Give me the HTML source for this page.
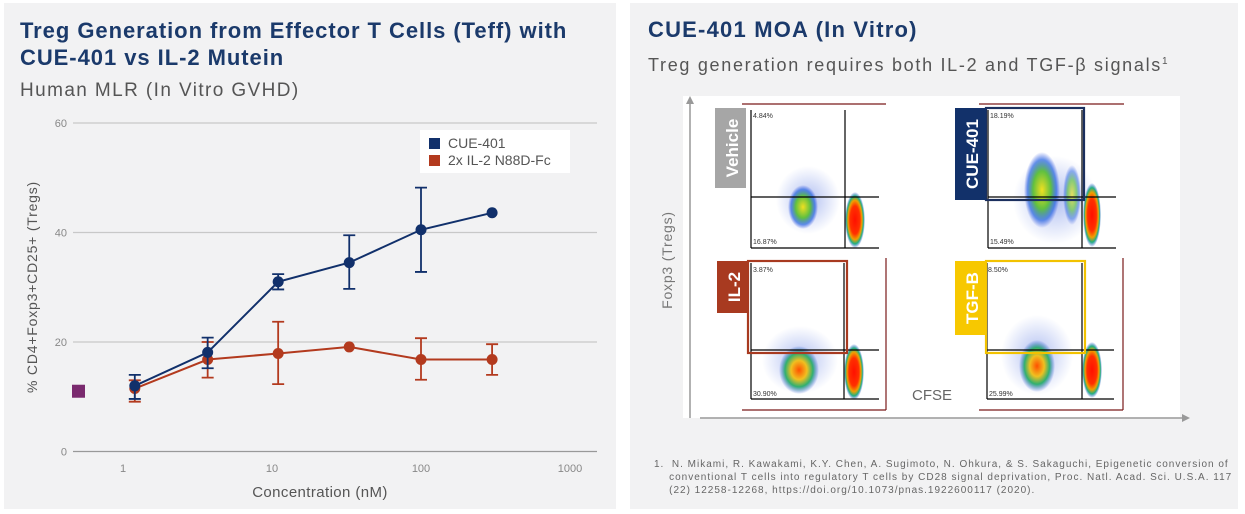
<!DOCTYPE html>
<html><head><meta charset="utf-8"><style>
body{margin:0;width:1245px;height:514px;background:#fff;font-family:"Liberation Sans",sans-serif;position:relative;overflow:hidden}
.panel{position:absolute;background:#f2f2f3}
.t{position:absolute;white-space:nowrap}
</style></head><body>
<div class="panel" style="left:4px;top:3px;width:612px;height:506px"></div>
<div class="panel" style="left:630px;top:3px;width:608px;height:506px"></div>
<div class="t" style="left:20px;top:17px;font-size:22px;font-weight:bold;color:#1b3a6b;line-height:27px;letter-spacing:0.95px">Treg Generation from Effector T Cells (Teff) with<br>CUE-401 vs IL-2 Mutein</div>
<div class="t" style="left:20px;top:80px;font-size:19px;color:#555;letter-spacing:1.4px">Human MLR (In Vitro GVHD)</div>
<div class="t" style="left:648px;top:17px;font-size:22px;font-weight:bold;color:#1b3a6b;letter-spacing:1.2px">CUE-401 MOA (In Vitro)</div>
<div class="t" style="left:648px;top:55px;font-size:18px;color:#555;letter-spacing:1.7px">Treg generation requires both IL-2 and TGF-β signals<sup style="font-size:10px">1</sup></div>
<div class="t" style="left:654px;top:458px;font-size:10px;color:#666;line-height:13px;letter-spacing:1px">1.&nbsp; N. Mikami, R. Kawakami, K.Y. Chen, A. Sugimoto, N. Ohkura, &amp; S. Sakaguchi, Epigenetic conversion of<br>&nbsp;&nbsp;&nbsp; conventional T cells into regulatory T cells by CD28 signal deprivation, Proc. Natl. Acad. Sci. U.S.A. 117<br>&nbsp;&nbsp;&nbsp; (22) 12258-12268, https://doi.org/10.1073/pnas.1922600117 (2020).</div>

<svg id="chart" width="1245" height="514" style="position:absolute;left:0;top:0"></svg>

<svg width="1245" height="514" style="position:absolute;left:0;top:0" font-family="Liberation Sans, sans-serif">
<defs>
<radialGradient id="g1"><stop offset="0" stop-color="#ff1000"/><stop offset="0.5" stop-color="#ff3000"/><stop offset="0.7" stop-color="#f0a000"/><stop offset="0.85" stop-color="#20b080"/><stop offset="1" stop-color="#3050e0" stop-opacity="0"/></radialGradient>
<radialGradient id="g2"><stop offset="0" stop-color="#f0e020"/><stop offset="0.5" stop-color="#60c040"/><stop offset="0.8" stop-color="#2060e0" stop-opacity="0.7"/><stop offset="1" stop-color="#3050e0" stop-opacity="0"/></radialGradient>
<radialGradient id="g3"><stop offset="0" stop-color="#ff5000"/><stop offset="0.4" stop-color="#f0c020"/><stop offset="0.7" stop-color="#30b070"/><stop offset="1" stop-color="#3050e0" stop-opacity="0"/></radialGradient>
<radialGradient id="haze"><stop offset="0" stop-color="#5070e0" stop-opacity="0.45"/><stop offset="1" stop-color="#5070e0" stop-opacity="0"/></radialGradient>
</defs>
<rect x="683" y="96" width="497" height="322" fill="#fff"/>
<line x1="690" y1="418" x2="690" y2="100" stroke="#999" stroke-width="1.5"/><polygon points="686,104 694,104 690,96" fill="#999"/>
<line x1="700" y1="418" x2="1185" y2="418" stroke="#999" stroke-width="1.5"/><polygon points="1182,414 1182,422 1190,418" fill="#999"/>
<text x="672" y="260" transform="rotate(-90 672 260)" text-anchor="middle" font-size="14" fill="#777" letter-spacing="0.8">Foxp3 (Tregs)</text>
<text x="932" y="400" text-anchor="middle" font-size="15" fill="#666">CFSE</text>
<g stroke="#7a1a1a" stroke-width="1.2" fill="none">
<line x1="742" y1="104" x2="886" y2="104"/><line x1="979" y1="104" x2="1124" y2="104"/>
<line x1="886" y1="258" x2="886" y2="410"/><line x1="742" y1="410" x2="886" y2="410"/>
<line x1="1123" y1="258" x2="1123" y2="410"/><line x1="979" y1="410" x2="1123" y2="410"/>
</g>
<g>
<ellipse cx="808" cy="200" rx="32" ry="34" fill="url(#haze)"/>
<ellipse cx="803" cy="207" rx="15" ry="22" fill="url(#g2)"/>
<ellipse cx="855" cy="220" rx="10" ry="28" fill="url(#g1)"/>
<g stroke="#000" stroke-width="1.2"><line x1="751" y1="110" x2="751" y2="248"/><line x1="751" y1="248" x2="879" y2="248"/><line x1="845" y1="110" x2="845" y2="248"/><line x1="751" y1="197" x2="879" y2="197"/></g>
<text x="753" y="118" font-size="7" fill="#333">4.84%</text><text x="753" y="244" font-size="7" fill="#333">16.87%</text>
<rect x="715" y="108" width="31" height="80" fill="#a6a6a6"/>
<text x="738" y="148" transform="rotate(-90 738 148)" text-anchor="middle" font-size="17" font-weight="bold" fill="#fff">Vehicle</text>
</g>
<g>
<ellipse cx="1055" cy="200" rx="42" ry="44" fill="url(#haze)"/>
<ellipse cx="1042" cy="190" rx="18" ry="38" fill="url(#g2)"/>
<ellipse cx="1072" cy="195" rx="9" ry="30" fill="url(#g2)" opacity="0.7"/>
<ellipse cx="1092" cy="215" rx="9" ry="32" fill="url(#g1)"/>
<g stroke="#000" stroke-width="1.2"><line x1="988" y1="110" x2="988" y2="248"/><line x1="988" y1="248" x2="1116" y2="248"/><line x1="1082" y1="110" x2="1082" y2="248"/><line x1="988" y1="197" x2="1116" y2="197"/></g>
<rect x="986" y="108" width="98" height="92" fill="none" stroke="#1b2f5e" stroke-width="2.2"/>
<text x="990" y="118" font-size="7" fill="#333">18.19%</text><text x="990" y="244" font-size="7" fill="#333">15.49%</text>
<rect x="955" y="108" width="31" height="92" fill="#12316a"/>
<text x="978" y="154" transform="rotate(-90 978 154)" text-anchor="middle" font-size="17" font-weight="bold" fill="#fff">CUE-401</text>
</g>
<g>
<ellipse cx="800" cy="360" rx="38" ry="34" fill="url(#haze)"/>
<ellipse cx="799" cy="370" rx="20" ry="24" fill="url(#g3)"/>
<ellipse cx="854" cy="372" rx="10" ry="28" fill="url(#g1)"/>
<g stroke="#000" stroke-width="1.2"><line x1="751" y1="263" x2="751" y2="399"/><line x1="751" y1="399" x2="879" y2="399"/><line x1="844" y1="263" x2="844" y2="399"/><line x1="751" y1="350" x2="879" y2="350"/></g>
<rect x="748" y="261" width="99" height="92" fill="none" stroke="#a83a20" stroke-width="2.2"/>
<text x="753" y="272" font-size="7" fill="#333">3.87%</text><text x="753" y="396" font-size="7" fill="#333">30.90%</text>
<rect x="717" y="261" width="31" height="52" fill="#a83a20"/>
<text x="740" y="287" transform="rotate(-90 740 287)" text-anchor="middle" font-size="17" font-weight="bold" fill="#fff">IL-2</text>
</g>
<g>
<ellipse cx="1037" cy="355" rx="36" ry="40" fill="url(#haze)"/>
<ellipse cx="1037" cy="366" rx="18" ry="26" fill="url(#g3)"/>
<ellipse cx="1092" cy="370" rx="10" ry="28" fill="url(#g1)"/>
<g stroke="#000" stroke-width="1.2"><line x1="987" y1="263" x2="987" y2="399"/><line x1="987" y1="399" x2="1114" y2="399"/><line x1="1082" y1="263" x2="1082" y2="399"/><line x1="987" y1="350" x2="1114" y2="350"/></g>
<rect x="986" y="261" width="99" height="92" fill="none" stroke="#f2c200" stroke-width="2.2"/>
<text x="988" y="272" font-size="7" fill="#333">8.50%</text><text x="989" y="396" font-size="7" fill="#333">25.99%</text>
<rect x="955" y="261" width="31" height="74" fill="#f7c800"/>
<text x="978" y="298" transform="rotate(-90 978 298)" text-anchor="middle" font-size="17" font-weight="bold" fill="#fff">TGF-B</text>
</g>
</svg>

<script>
const concentrations = [1.2, 3.7, 11, 33, 100, 300];
const cueValues = [12.0, 18.1, 31.0, 34.5, 40.5, 43.6];
const cueHigh = [14.0, 20.8, 32.4, 39.5, 48.2, null];
const cueLow = [9.6, 15.2, 29.6, 29.7, 32.8, null];
const il2Values = [11.5, 16.8, 17.9, 19.1, 16.8, 16.8];
const il2High = [13.0, 20.0, 23.7, null, 20.7, 19.6];
const il2Low = [9.1, 13.5, 12.3, null, 13.1, 14.0];
const vehicleValue = 11.1;
const yTicks = [0, 20, 40, 60];
const xTicks = [1, 10, 100, 1000];

const NS = 'http://www.w3.org/2000/svg';
const svg = document.getElementById('chart');
const xs = v => 123 + 149 * Math.log10(v);
const ys = v => 451.5 - v * (328.5 / 60);
function el(tag, attrs, parent) {
  const e = document.createElementNS(NS, tag);
  for (const k in attrs) e.setAttribute(k, attrs[k]);
  (parent || svg).appendChild(e);
  return e;
}
yTicks.forEach(t => {
  const g = el('line', {x1: 73, x2: 597, y1: ys(t), y2: ys(t), stroke: t === 0 ? '#999' : '#c8c8c8', 'stroke-width': 1.2});
  
  
  const l = el('text', {x: 67, y: ys(t) + 4, 'text-anchor': 'end', 'font-size': 11, fill: '#888'});
  l.textContent = t;
  
  
});
xTicks.forEach(t => {
  const l = el('text', {x: xs(t), y: 472, 'text-anchor': 'middle', 'font-size': 11, fill: '#888'});
  l.textContent = t;
  
  
});
const yt = el('text', {x: 37, y: 287, 'text-anchor': 'middle', 'font-size': 14, fill: '#555', 'letter-spacing': 0.8, transform: 'rotate(-90 37 287)'});
yt.textContent = '% CD4+Foxp3+CD25+ (Tregs)';


const xt = el('text', {x: 320, y: 497, 'text-anchor': 'middle', 'font-size': 15, fill: '#555', 'letter-spacing': 0.4});
xt.textContent = 'Concentration (nM)';



function series(vals, hi, lo, color, name) {
  const g = el('g', {});
  
  
  el('polyline', {points: vals.map((v, i) => xs(concentrations[i]) + ',' + ys(v)).join(' '), fill: 'none', stroke: color, 'stroke-width': 2}, g);
  vals.forEach((v, i) => {
    const x = xs(concentrations[i]);
    if (hi[i] != null) {
      const eb = el('path', {d: `M${x},${ys(hi[i])}V${ys(lo[i])}M${x-6},${ys(hi[i])}h12M${x-6},${ys(lo[i])}h12`, stroke: color, 'stroke-width': 1.8, fill: 'none'}, g);
      
      
    }
    const c = el('circle', {cx: x, cy: ys(v), r: 5.5, fill: color}, g);
    
    
  });
}
series(il2Values, il2High, il2Low, '#b33a1e', 'il2-mutein');
series(cueValues, cueHigh, cueLow, '#11306b', 'cue-401');
const vs = el('rect', {x: 72, y: ys(vehicleValue) - 6, width: 13, height: 13, fill: '#7a2a6e'});



const lg = el('g', {});


el('rect', {x: 420, y: 130, width: 150, height: 43, fill: '#fff'}, lg);
[['CUE-401', '#11306b'], ['2x IL-2 N88D-Fc', '#b33a1e']].forEach((d, i) => {
  const e = el('rect', {x: 429, y: 138 + i * 17, width: 11, height: 11, fill: d[1]}, lg);
  
  
  const t = el('text', {x: 448, y: 148 + i * 17, 'font-size': 14, fill: '#555'}, lg);
  t.textContent = d[0];
  
  
});
</script>
</body></html>
